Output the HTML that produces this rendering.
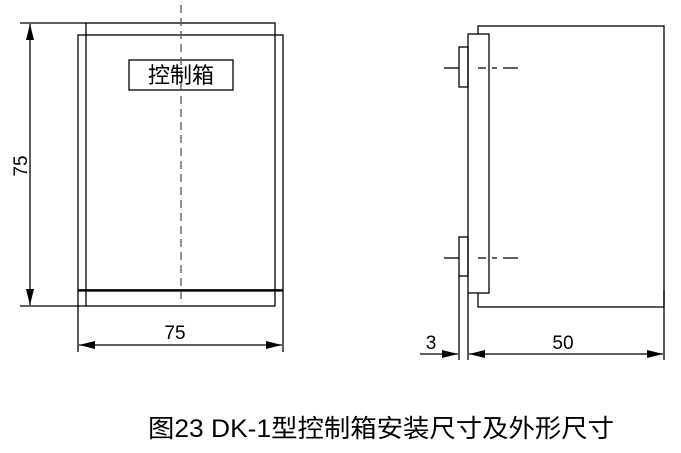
<!DOCTYPE html>
<html><head><meta charset="utf-8"><style>body{margin:0;background:#fff}svg{display:block}</style></head>
<body>
<svg width="681" height="453" viewBox="0 0 681 453" xmlns="http://www.w3.org/2000/svg" font-family="Liberation Sans, Noto Sans CJK SC, sans-serif">
<defs>
<marker id="a" viewBox="0 0 16 8" refX="16" refY="4" markerWidth="16" markerHeight="8" markerUnits="userSpaceOnUse" orient="auto-start-reverse"><path d="M0,0L16,4L0,8z" fill="#000"/></marker>
</defs>
<g fill="none" stroke="#000" stroke-width="1.3">
<rect x="86" y="23" width="189" height="283"/>
<rect x="78" y="35" width="205" height="256" fill="#fff"/>
<line x1="86" y1="35" x2="86" y2="291"/><line x1="275" y1="35" x2="275" y2="291"/>
<line x1="78" y1="290" x2="283" y2="290" stroke-width="1.8"/>
<rect x="129" y="60" width="104" height="30" fill="#fff"/>
<line x1="181" y1="5" x2="181" y2="302" stroke="#555" stroke-dasharray="8,5"/>
<line x1="20" y1="23" x2="86" y2="23"/><line x1="20" y1="306" x2="86" y2="306"/>
<line x1="30" y1="24" x2="30" y2="305" marker-start="url(#a)" marker-end="url(#a)"/>
<line x1="78" y1="291" x2="78" y2="352"/><line x1="283" y1="291" x2="283" y2="352"/>
<line x1="79" y1="345" x2="282" y2="345" marker-start="url(#a)" marker-end="url(#a)"/>
<rect x="478" y="26" width="186" height="281"/>
<rect x="468" y="34" width="21" height="259" fill="#fff"/>
<rect x="459" y="47" width="9" height="40"/>
<rect x="459" y="237" width="9" height="39"/>
<line x1="444" y1="68" x2="459" y2="68"/><line x1="444" y1="258" x2="459" y2="258"/>
<path d="M478,68h8M492,68h5M503,68h15M478,258h8M492,258h5M503,258h15"/>
<line x1="459" y1="276" x2="459" y2="360"/><line x1="468" y1="293" x2="468" y2="360"/>
<line x1="664" y1="290" x2="664" y2="360"/>
<line x1="420" y1="354" x2="458" y2="354" marker-end="url(#a)"/>
<line x1="469" y1="354" x2="663" y2="354" marker-start="url(#a)" marker-end="url(#a)"/>
</g>
<g font-size="19" fill="#000">
<text x="181" y="83" text-anchor="middle" font-size="22">控制箱</text>
<text x="0" y="0" transform="translate(27,166) rotate(-90)" text-anchor="middle">75</text>
<text x="175" y="339" text-anchor="middle">75</text>
<text x="431" y="349" text-anchor="middle">3</text>
<text x="563" y="349" text-anchor="middle">50</text>
<text x="148" y="437" font-size="25" textLength="466" lengthAdjust="spacingAndGlyphs">图23 DK-1型控制箱安装尺寸及外形尺寸</text>
</g>
</svg>
</body></html>
